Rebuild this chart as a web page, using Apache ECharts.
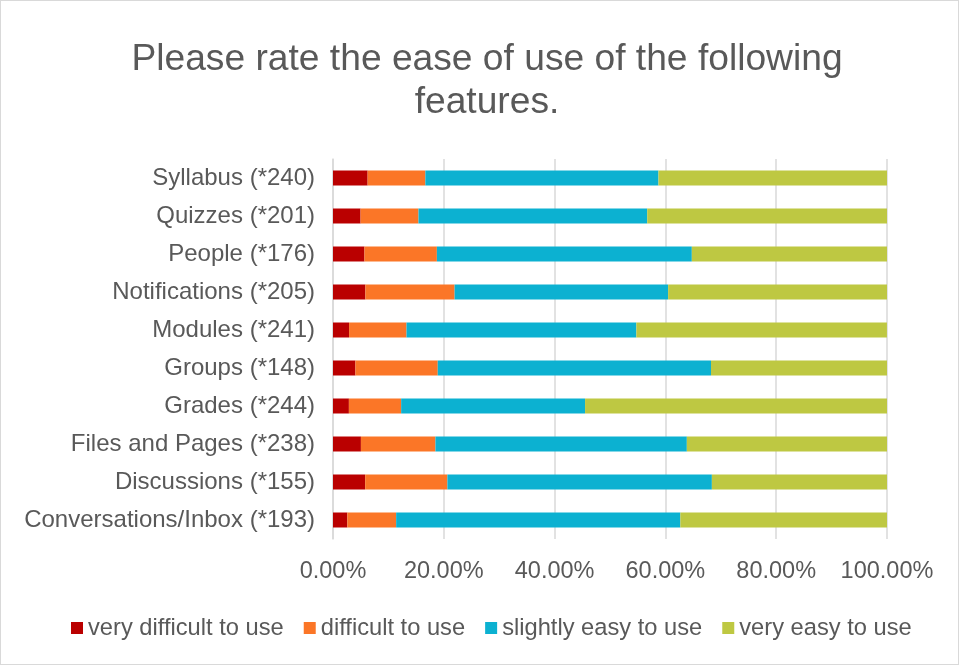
<!DOCTYPE html>
<html>
<head>
<meta charset="utf-8">
<script src="https://cdn.jsdelivr.net/npm/echarts@6/dist/echarts.min.js"></script>
<style>
  html, body { margin: 0; padding: 0; background: #fff; }
  #chart { width: 957px; height: 663px; border: 1px solid #d9d9d9; }
</style>
</head>
<body>
<div id="chart"></div>
<script>
// Features, listed top to bottom as shown
const categories = [
  'Syllabus (*240)',
  'Quizzes (*201)',
  'People (*176)',
  'Notifications (*205)',
  'Modules (*241)',
  'Groups (*148)',
  'Grades (*244)',
  'Files and Pages (*238)',
  'Discussions (*155)',
  'Conversations/Inbox (*193)'
];

// Share of respondents (%) per rating, same order as categories
const veryDifficult = [6.25, 4.98, 5.68, 5.85, 2.90, 4.05, 2.87, 5.04, 5.81, 2.59];
const difficult     = [10.42, 10.45, 13.07, 16.10, 10.37, 14.86, 9.43, 13.45, 14.84, 8.81];
const slightlyEasy  = [42.08, 41.29, 46.02, 38.54, 41.49, 49.32, 33.20, 45.38, 47.74, 51.30];
const veryEasy      = [41.25, 43.28, 35.23, 39.51, 45.23, 31.77, 54.50, 36.13, 31.61, 37.30];

const seriesNames = ['very difficult to use', 'difficult to use', 'slightly easy to use', 'very easy to use'];
const seriesColors = ['#BA0000', '#FB7627', '#0CB1D1', '#BEC842'];
const seriesValues = [veryDifficult, difficult, slightlyEasy, veryEasy];

const FONT = 'Liberation Sans, Arial, sans-serif';

const chart = echarts.init(document.getElementById('chart'));
chart.setOption({
  animation: false,
  title: {
    text: 'Please rate the ease of use of the following\nfeatures.',
    left: 481,
    top: 32,
    textAlign: 'center',
    textStyle: {
      fontFamily: FONT,
      fontSize: 37.2,
      fontWeight: 'normal',
      color: '#595959',
      lineHeight: 43
    }
  },
  legend: {
    bottom: 19,
    left: 65,
    itemWidth: 12,
    itemHeight: 12,
    itemGap: 20,
    icon: 'rect',
    textStyle: {
      fontFamily: FONT,
      fontSize: 23.7,
      color: '#595959'
    },
    data: seriesNames
  },
  grid: {
    left: 332,
    right: 71,
    top: 158,
    bottom: 125
  },
  xAxis: {
    type: 'value',
    min: 0,
    max: 100,
    interval: 20,
    axisLine: { show: false },
    axisTick: { show: false },
    splitLine: { lineStyle: { color: '#d9d9d9', width: 1.5 } },
    axisLabel: {
      margin: 21,
      fontFamily: FONT,
      fontSize: 23.5,
      color: '#595959',
      formatter: v => v.toFixed(2) + '%'
    }
  },
  yAxis: {
    type: 'category',
    inverse: true,
    data: categories,
    axisLine: { lineStyle: { color: '#d9d9d9', width: 1.5 } },
    axisTick: { show: false },
    axisLabel: {
      margin: 18,
      fontFamily: FONT,
      fontSize: 24,
      color: '#595959'
    }
  },
  series: seriesNames.map((name, i) => ({
    name: name,
    type: 'bar',
    stack: 'total',
    barWidth: 15,
    itemStyle: { color: seriesColors[i] },
    data: seriesValues[i]
  }))
});
</script>
</body>
</html>
